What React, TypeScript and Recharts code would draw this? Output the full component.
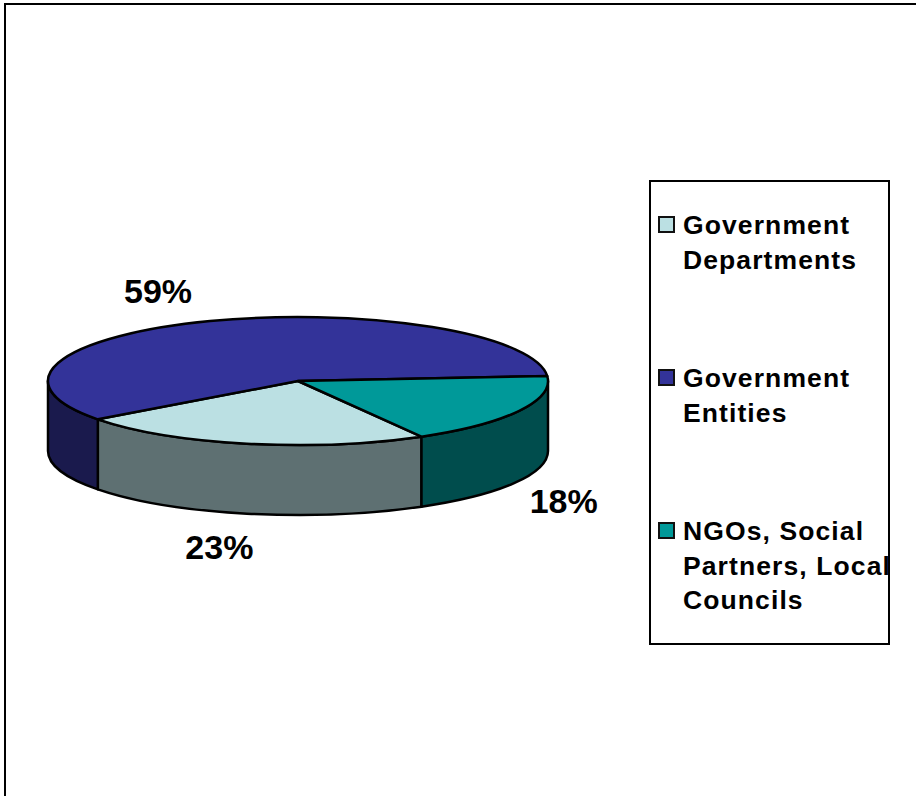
import React from "react";
import { PieChart, Pie, Cell, Legend } from "recharts";

const categories = ["Government Departments", "Government Entities", "NGOs, Social Partners, Local Councils"];
const shares = [23, 59, 18];
const legendLines = [["Government", "Departments"], ["Government", "Entities"], ["NGOs, Social", "Partners, Local", "Councils"]];
const topColors = ["#BBE0E3", "#333399", "#009999"];
const wallColors = ["#5E7072", "#1A1A4D", "#004D4D"];
const labelOffsets = [[-27.5, 33], [-52, -30], [45, 20]];
const legendTops = [25, 178, 331];

const data = categories.map((name, i) => ({ name, value: shares[i] }));

const TILT = 64 / 250;
const DEPTH = 70;
const FONT = '"Liberation Sans", Arial, sans-serif';
const rad = (d: number) => (d * Math.PI) / 180;

function SlantedSector(props: any) {
  const { cx, cy, outerRadius: rx, startAngle, endAngle, fill, index } = props;
  const ry = rx * TILT;
  const pt = (a: number, dy = 0) => [cx + rx * Math.cos(rad(a)), cy - ry * Math.sin(rad(a)) + dy];
  const hi = Math.max(startAngle, endAngle);
  const lo = Math.min(startAngle, endAngle);
  const p1 = pt(hi);
  const p2 = pt(lo);
  const large = hi - lo > 180 ? 1 : 0;
  const top = `M${cx},${cy}L${p1[0]},${p1[1]}A${rx},${ry} 0 ${large} 1 ${p2[0]},${p2[1]}Z`;
  const walls: string[] = [];
  for (let k = -3; k <= 3; k++) {
    const a = Math.min(hi, 360 * k);
    const b = Math.max(lo, 360 * k - 180);
    if (a > b) {
      const w1 = pt(a);
      const w2 = pt(b);
      const w3 = pt(b, DEPTH);
      const w4 = pt(a, DEPTH);
      walls.push(`M${w1[0]},${w1[1]}A${rx},${ry} 0 0 1 ${w2[0]},${w2[1]}L${w3[0]},${w3[1]}A${rx},${ry} 0 0 0 ${w4[0]},${w4[1]}Z`);
    }
  }
  const i = index ?? categories.indexOf(props.name);
  return (
    <g>
      {walls.map((d, n) => (
        <path key={n} d={d} fill={wallColors[i]} stroke="#000" strokeWidth={2.5} strokeLinejoin="round" />
      ))}
      <path d={top} fill={fill} stroke="#000" strokeWidth={2.5} strokeLinejoin="round" />
    </g>
  );
}

function renderLabel(props: any) {
  const { cx, cy, outerRadius: rx, midAngle, index, value } = props;
  const ry = rx * TILT;
  const x = cx + rx * Math.cos(rad(midAngle));
  const baseY = cy - ry * Math.sin(rad(midAngle)) + (Math.sin(rad(midAngle)) < 0 ? DEPTH : 0);
  const [ox, oy] = labelOffsets[index];
  return (
    <text x={x + ox} y={baseY + oy + 12} textAnchor="middle" fontFamily={FONT} fontWeight="bold" fontSize={34} fill="#000">
      {`${value}%`}
    </text>
  );
}

function LegendBox() {
  return (
    <div style={{ position: "relative", width: 241, height: 465, boxSizing: "border-box", border: "2px solid #000", background: "#fff", fontFamily: FONT }}>
      {categories.map((c, i) => (
        <div key={c}>
          <div style={{ position: "absolute", left: 7, top: legendTops[i] + 9, width: 17, height: 17, boxSizing: "border-box", border: "2px solid #111", background: topColors[i] }} />
          {legendLines[i].map((line, j) => (
            <div key={line} style={{ position: "absolute", left: 32, top: legendTops[i] + j * 34.5 + 1, lineHeight: "34px", fontSize: 26.5, fontWeight: "bold", letterSpacing: 1.1, color: "#000", whiteSpace: "nowrap" }}>
              {line}
            </div>
          ))}
        </div>
      ))}
    </div>
  );
}

export default function App() {
  return (
    <div style={{ position: "absolute", left: 0, top: 0, width: 916, height: 796, overflow: "hidden", background: "#fff" }}>
      <div style={{ position: "absolute", left: 4, top: 3, width: 1000, height: 1000, border: "2px solid #000" }} />
      <div style={{ position: "absolute", left: 0, top: 0 }}>
        <PieChart width={916} height={796}>
          <Pie
            data={data}
            dataKey="value"
            nameKey="name"
            cx={293}
            cy={376}
            innerRadius={0}
            outerRadius={250}
            startAngle={-60.4}
            endAngle={-420.4}
            paddingAngle={0}
            stroke="#000"
            isAnimationActive={false}
            shape={SlantedSector}
            label={renderLabel}
            labelLine={false}
          >
            {data.map((d, i) => (
              <Cell key={d.name} fill={topColors[i]} />
            ))}
          </Pie>
          <Legend
            content={() => <LegendBox />}
            wrapperStyle={{ position: "absolute", left: 649, top: 180, width: 241, height: 465, bottom: "auto", right: "auto" }}
          />
        </PieChart>
      </div>
    </div>
  );
}
